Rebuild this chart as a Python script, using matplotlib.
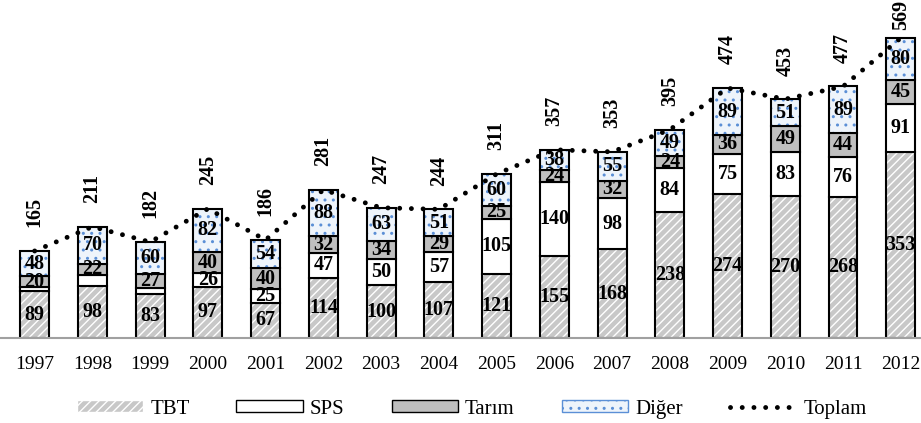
import numpy as np
import matplotlib.pyplot as plt
from matplotlib.patches import Patch
from matplotlib.lines import Line2D

plt.rcParams['font.family'] = ['Liberation Serif', 'DejaVu Serif']

# data
years = ['1997', '1998', '1999', '2000', '2001', '2002', '2003', '2004',
         '2005', '2006', '2007', '2008', '2009', '2010', '2011', '2012']
tbt = [89, 98, 83, 97, 67, 114, 100, 107, 121, 155, 168, 238, 274, 270, 268, 353]
sps = [8, 21, 12, 26, 25, 47, 50, 57, 105, 140, 98, 84, 75, 83, 76, 91]
tarim = [20, 22, 27, 40, 40, 32, 34, 29, 25, 24, 32, 24, 36, 49, 44, 45]
diger = [48, 70, 60, 82, 54, 88, 63, 51, 60, 38, 55, 49, 89, 51, 89, 80]
toplam = [165, 211, 182, 245, 186, 281, 247, 244, 311, 357, 353, 395, 474, 453, 477, 569]

x = np.arange(len(years))
w = 0.5
tbt = np.array(tbt); sps = np.array(sps); tarim = np.array(tarim); diger = np.array(diger)

fig = plt.figure(figsize=(9.21, 4.23), dpi=100)
ax = fig.add_axes([0.0, 0.201, 1.0, 0.799])

# TBT: gray with white diagonal stripes
ax.bar(x, tbt, w, color='#c8c8c8', edgecolor='white', hatch='////', linewidth=0)
ax.bar(x, tbt, w, fill=False, edgecolor='black', linewidth=1.5)
# SPS: white
ax.bar(x, sps, w, bottom=tbt, color='white', edgecolor='black', linewidth=1.5)
# Tarim: gray
ax.bar(x, tarim, w, bottom=tbt + sps, color='#bfbfbf', edgecolor='black', linewidth=1.5)
# Diger: blue dots
b3 = tbt + sps + tarim
ax.bar(x, diger, w, bottom=b3, color='#eef4fb', edgecolor='#5b8fd6', hatch='..', linewidth=0)
ax.bar(x, diger, w, bottom=b3, fill=False, edgecolor='black', linewidth=1.5)

ax.plot(x, toplam, color='black', linewidth=3.5,
        linestyle=(0, (0.01, 2.4)), dash_capstyle='round')

lab_kw = dict(ha='center', va='center', fontsize=14.5, fontweight='bold')
for i in range(len(x)):
    ax.text(x[i], tbt[i] / 2, str(tbt[i]), **lab_kw)
    if sps[i] >= 25:
        ax.text(x[i], tbt[i] + sps[i] / 2, str(sps[i]), **lab_kw)
    ax.text(x[i], tbt[i] + sps[i] + tarim[i] / 2, str(tarim[i]), **lab_kw)
    ax.text(x[i], b3[i] + diger[i] / 2, str(diger[i]), **lab_kw)
    off = 5.5 if i == len(x) - 1 else 17
    ax.annotate(str(toplam[i]), (x[i], toplam[i]), xytext=(0, off),
                textcoords='offset points', rotation=90, ha='center', va='bottom',
                fontsize=14.5, fontweight='bold', annotation_clip=False)

ax.set_xlim(-0.6, 15.35)
ax.set_ylim(0, 641)
ax.set_xticks(x)
ax.set_xticklabels(years, fontsize=14)
ax.tick_params(length=0, pad=13)
ax.set_yticks([])
for s in ['top', 'right', 'left']:
    ax.spines[s].set_visible(False)
ax.spines['bottom'].set_color('#a0a0a0')
ax.spines['bottom'].set_linewidth(1.5)

# legend
handles = [
    Patch(facecolor='#c8c8c8', edgecolor='white', hatch='////'),
    Patch(facecolor='white', edgecolor='black'),
    Patch(facecolor='#bfbfbf', edgecolor='black'),
    Patch(facecolor='#eef4fb', edgecolor='#5b8fd6', hatch='..'),
    Line2D([0], [0], color='black', linewidth=3.5, linestyle=(0, (0.01, 2.4)),
           dash_capstyle='round'),
]
fig.legend(handles, ['TBT', 'SPS', 'Tarım', 'Diğer', 'Toplam'], loc='center',
           bbox_to_anchor=(0.512, 0.033), ncol=5, frameon=False, fontsize=15,
           handlelength=3.2, handleheight=0.55, handletextpad=0.33, columnspacing=2.25)

fig.savefig('out.png', dpi=100)
